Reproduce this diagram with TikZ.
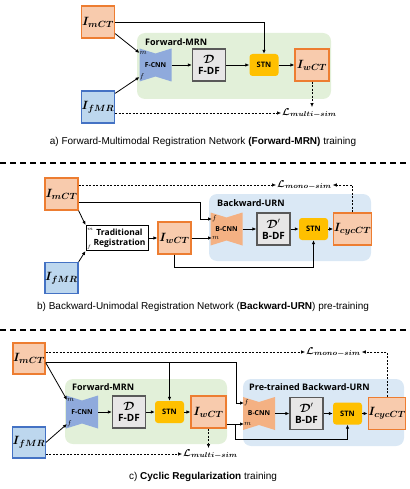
\documentclass[tikz,border=0pt]{standalone}
\usepackage{fontspec}
\usepackage{amsmath,bm}
\usetikzlibrary{arrows.meta,positioning}
\newfontfamily\labfont{Open Sans}
\newfontfamily\capfont{Liberation Sans}
\newcommand\dfield[1]{{\fontsize{12}{12}\selectfont$\bm{\mathcal{D}}#1$}}
\definecolor{orfill}{HTML}{F8CBAD}
\definecolor{ordraw}{HTML}{ED7D31}
\definecolor{blfill}{HTML}{BDD7EE}
\definecolor{bldraw}{HTML}{4472C4}
\definecolor{grreg}{HTML}{E2F0D9}
\definecolor{blreg}{HTML}{DAE8F5}
\definecolor{fcnncol}{HTML}{8FAADC}
\definecolor{bcnncol}{HTML}{F4B183}
\definecolor{dffill}{HTML}{E7E6E6}
\definecolor{dfdraw}{HTML}{595959}
\definecolor{stnfill}{HTML}{FFC000}
\tikzset{
  img/.style={draw=ordraw,fill=orfill,line width=1.2pt,minimum width=33pt,minimum height=32pt,inner sep=0pt,font=\fontsize{12.5}{12.5}\selectfont},
  mr/.style={img,draw=bldraw,fill=blfill},
  dfbox/.style={draw=dfdraw,fill=dffill,line width=1.3pt,minimum width=33pt,minimum height=32pt,inner sep=0pt,align=center,font=\labfont\bfseries\fontsize{10}{11}\selectfont},
  stnbox/.style={fill=stnfill,rounded corners=3pt,minimum width=29pt,minimum height=22pt,inner sep=0pt,font=\labfont\bfseries\fontsize{7.5}{7.5}\selectfont},
  cnnbox/.style={minimum width=32pt,minimum height=33pt,inner sep=0pt,font=\labfont\bfseries\fontsize{6.8}{6.8}\selectfont,
    path picture={\fill[#1] (path picture bounding box.north west) -- ([yshift=-5pt]path picture bounding box.north) -- (path picture bounding box.north east)
      -- (path picture bounding box.south east) -- ([yshift=5pt]path picture bounding box.south) -- (path picture bounding box.south west) -- cycle;}},
  region/.style={rounded corners=8pt},
  title/.style={anchor=west,inner sep=0pt,font=\labfont\bfseries\fontsize{9}{9}\selectfont},
  port/.style={anchor=west,inner sep=0pt,font=\fontsize{7}{7}\selectfont},
  tport/.style={anchor=west,inner sep=0pt,font=\fontsize{4}{4}\selectfont},
  loss/.style={anchor=west,inner sep=1pt,font=\fontsize{10}{10}\selectfont},
  arr/.style={-{Latex[length=4pt,width=3.5pt]},line width=0.8pt},
  darr/.style={arr,line width=0.6pt,dash pattern=on 2pt off 1.5pt},
  sep/.style={line width=1.3pt,dash pattern=on 6pt off 4pt},
  caption/.style={font=\capfont\fontsize{10}{12}\selectfont}
}
\begin{document}
\begin{tikzpicture}[x=1pt,y=-1pt]
    \path[use as bounding box] (0,0) rectangle (409,489);

    \fill[grreg,region] (137,33) rectangle (331,99);
    \node[title] (ttlA) at (145,42) {Forward-MRN};
    \node[img] (ImCTa) at (98,22) {$\bm{I}_{\bm{mCT}}$};
    \node[mr] (IfMRa) at (98,107) {$\bm{I}_{\bm{fMR}}$};
    \node[cnnbox=fcnncol] (fcnnA) at (155.5,65) {F-CNN};
    \node[dfbox] (dfA) at (209,65) {\dfield{}\\F-DF};
    \node[stnbox] (stnA) at (264,65) {STN};
    \node[img,minimum width=34pt] (IwCTa) at (312,65) {$\bm{I}_{\bm{wCT}}$};
    \node[port] (mA) at (139.5,53) {$m$};
    \node[port] (fA) at (139.5,77) {$f$};
    \node[loss] (LmultiA) at (281,113) {$\bm{\mathcal{L}}_{\bm{multi-sim}}$};
    \draw[arr] (ImCTa.east) -| (stnA.north);
    \draw[arr] ([yshift=5pt]ImCTa.south east) -- (mA.west);
    \draw[arr] ([yshift=-3pt]IfMRa.north east) -- (fA.west);
    \foreach \a/\b in {fcnnA/dfA,dfA/stnA,stnA/IwCTa}
    \draw[arr] (\a) -- (\b);
    \draw[darr] (IwCTa.south) -- (IwCTa.south |- LmultiA.north);
    \draw[darr] (IfMRa.east |- LmultiA.west) -- (LmultiA.west);
    \node[caption] (capA) at (203,142) {a) Forward-Multimodal Registration Network \textbf{(Forward-MRN)} training};

    \draw[sep] (0,163) -- (409,163);
    \fill[blreg,region] (209,194) rectangle (371,261);
    \node[title] (ttlB) at (217,203) {Backward-URN};
    \node[img] (ImCTb) at (61.5,194) {$\bm{I}_{\bm{mCT}}$};
    \node[mr,minimum height=31pt] (IfMRb) at (61.5,278) {$\bm{I}_{\bm{fMR}}$};
    \node[draw,line width=1pt,minimum width=62pt,minimum height=25pt,inner sep=0pt,align=center,font=\labfont\bfseries\fontsize{8.5}{10}\selectfont] (regB) at (117,238) {\hspace*{5pt}Traditional\\\hspace*{5pt}Registration};
    \node[tport] (mR) at (87,229) {$m$};
    \node[tport] (fR) at (87,247) {$f$};
    \node[img] (IwCTb) at (174.5,238) {$\bm{I}_{\bm{wCT}}$};
    \node[cnnbox=bcnncol] (bcnnB) at (226.5,229) {B-CNN};
    \node[dfbox] (dfB) at (273.5,229) {\dfield{'}\\B-DF};
    \node[stnbox] (stnB) at (313.5,229) {STN};
    \node[img,minimum width=35pt] (IcycB) at (352.5,229) {$\bm{I}_{\bm{cycCT}}$};
    \node[port] (fB) at (212,219) {$f$};
    \node[port] (mB) at (212,238) {$m$};
    \node[loss] (LmonoB) at (276,185) {$\bm{\mathcal{L}}_{\bm{mono-sim}}$};
    \draw[darr] (ImCTb.east |- LmonoB.west) -- (LmonoB.west);
    \draw[darr] (IcycB.north) |- (LmonoB.east);
    \draw[arr] ([yshift=-8pt]ImCTb.east) -| ([xshift=-12pt]fB.west) -- (fB.west);
    \draw[arr] (ImCTb.south east) -- (regB.north west);
    \draw[arr] (IfMRb.north east) -- (regB.south west);
    \draw[arr] (IwCTb.south) -- ++(0,13) -| (stnB.south);
    \foreach \a/\b in {regB/IwCTb,bcnnB/dfB,dfB/stnB,stnB/IcycB}
    \draw[arr] (\a) -- (\b);
    \draw[arr] (IwCTb.east) -- (mB.west);
    \node[caption] (capB) at (203,307) {b) Backward-Unimodal Registration Network (\textbf{Backward-URN}) pre-training};

    \draw[sep] (0,330) -- (409,330);
    \fill[grreg,region] (65,379) rectangle (227,444);
    \fill[blreg,region] (243,379) rectangle (404,446);
    \node[title] (ttlC) at (72,387) {Forward-MRN};
    \node[title] (ttlD) at (249,387) {Pre-trained Backward-URN};
    \node[img,minimum width=32pt,minimum height=31pt] (ImCTc) at (29,358.5) {$\bm{I}_{\bm{mCT}}$};
    \node[mr,minimum width=32pt,minimum height=31pt] (IfMRc) at (29,442.5) {$\bm{I}_{\bm{fMR}}$};
    \node[cnnbox=fcnncol] (fcnnC) at (82,412) {F-CNN};
    \node[dfbox] (dfC) at (129,412) {\dfield{}\\F-DF};
    \node[stnbox] (stnC) at (169.5,412) {STN};
    \node[img,minimum width=35pt] (IwCTc) at (208.5,412) {$\bm{I}_{\bm{wCT}}$};
    \node[cnnbox=bcnncol] (bcnnC) at (259,413.5) {B-CNN};
    \node[dfbox] (dfD) at (306.5,413.5) {\dfield{'}\\B-DF};
    \node[stnbox] (stnD) at (347.5,413.5) {STN};
    \node[img,minimum width=34pt] (IcycC) at (387,413.5) {$\bm{I}_{\bm{cycCT}}$};
    \node[port] (mC) at (67,400) {$m$};
    \node[port] (fC) at (67,424) {$f$};
    \node[port] (fD) at (244,403) {$f$};
    \node[port] (mD) at (244,424) {$m$};
    \node[loss] (LmonoC) at (305,352) {$\bm{\mathcal{L}}_{\bm{mono-sim}}$};
    \node[loss] (LmultiC) at (182,454) {$\bm{\mathcal{L}}_{\bm{multi-sim}}$};
    \coordinate (busC) at ([yshift=-4pt]ImCTc.east);
    \coordinate (busW) at ([yshift=-12pt]IwCTc.east);
    \draw[darr] (ImCTc.east |- LmonoC.west) -- (LmonoC.west);
    \draw[darr] (IcycC.north) |- (LmonoC.east);
    \draw[darr] (IfMRc.east |- LmultiC.west) -- (LmultiC.west);
    \draw[darr] (IwCTc.south) -- (IwCTc.south |- LmultiC.north);
    \draw[arr] (busC) -| ([xshift=-8pt]fD.west) -- (fD.west);
    \draw[arr] (busC -| stnC.north) -- (stnC.north);
    \draw[arr] (busC) -- (mC.west);
    \draw[arr] (IfMRc.east) -- (fC.west);
    \draw[arr] (busW) -- (busW -| mD.west);
    \draw[arr] ([xshift=9pt]busW) -- ++(0,15) -| (stnD.south);
    \foreach \a/\b in {fcnnC/dfC,dfC/stnC,stnC/IwCTc,bcnnC/dfD,dfD/stnD,stnD/IcycC}
    \draw[arr] (\a) -- (\b);
    \node[caption] (capC) at (203,477) {c) \textbf{Cyclic Regularization} training};
\end{tikzpicture}
\end{document}
